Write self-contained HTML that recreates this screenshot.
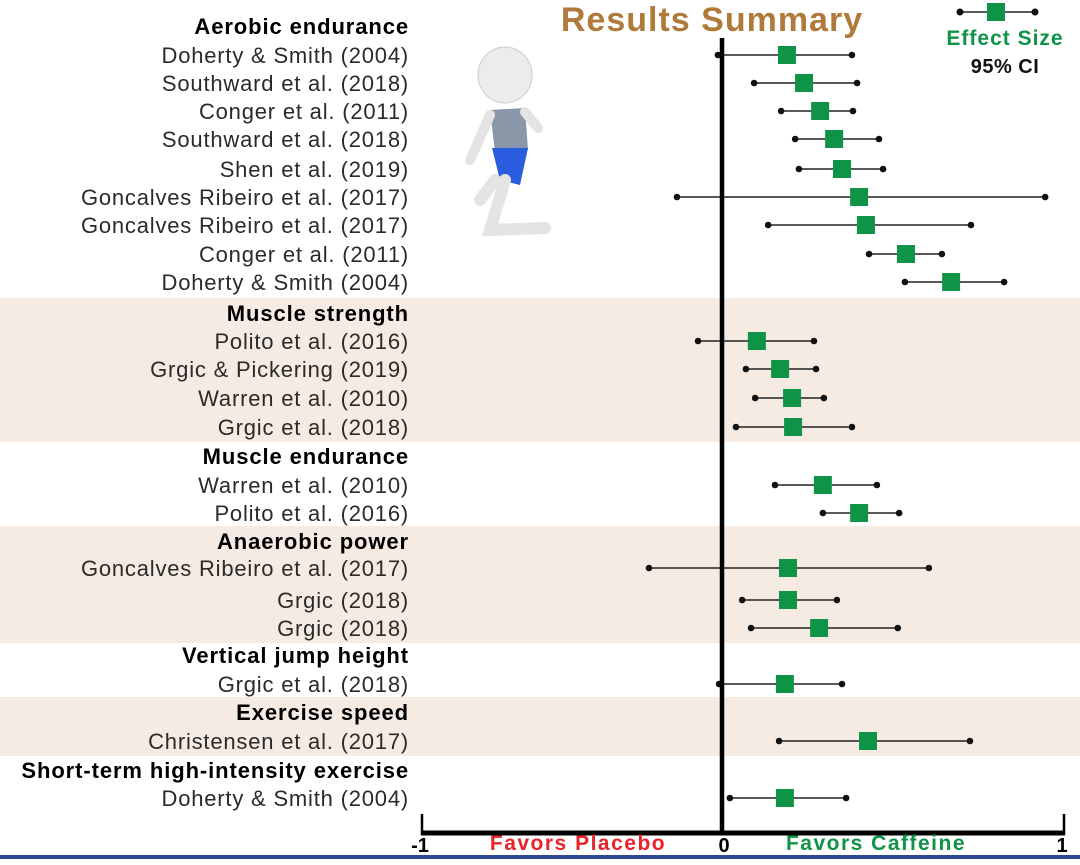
<!DOCTYPE html>
<html><head><meta charset="utf-8"><style>
body{margin:0;width:1080px;height:865px;overflow:hidden;background:#fff;font-family:"Liberation Sans",sans-serif}
svg{display:block}
</style></head><body>
<svg id="chart" width="1080" height="865" xmlns="http://www.w3.org/2000/svg">
<g id="bands"></g>
<g id="deco">
  <ellipse cx="505" cy="75" rx="27" ry="28" fill="#ececec" stroke="#ccc"/>
  <path d="M490 110 L525 108 L528 150 L495 152 Z" fill="#8a97a8"/>
  <path d="M492 148 L528 148 L520 185 L500 180 Z" fill="#2b5de0"/>
  <path d="M505 180 L490 230 L545 228" stroke="#e4e4e4" stroke-width="12" fill="none" stroke-linecap="round"/>
  <path d="M495 180 L480 200" stroke="#e4e4e4" stroke-width="12" fill="none" stroke-linecap="round"/>
  <path d="M490 115 L470 160" stroke="#e4e4e4" stroke-width="10" fill="none" stroke-linecap="round"/>
  <path d="M525 112 L538 128" stroke="#e4e4e4" stroke-width="10" fill="none" stroke-linecap="round"/>
</g>
<text x="712" y="31" text-anchor="middle" font-size="34" font-weight="bold" letter-spacing="1" fill="#b07a3a">Results Summary</text>
<g>
  <line x1="960" y1="12" x2="1035" y2="12" stroke="#222" stroke-width="1.5"/>
  <circle cx="960" cy="12" r="3.5" fill="#111"/><circle cx="1035" cy="12" r="3.5" fill="#111"/>
  <rect x="987" y="3" width="18" height="18" fill="#0f9447"/>
  <text x="1005" y="45" text-anchor="middle" font-size="21" font-weight="bold" letter-spacing="1" fill="#0f9447">Effect Size</text>
  <text x="1005" y="73" text-anchor="middle" font-size="20" font-weight="bold" letter-spacing="0.5" fill="#111">95% CI</text>
</g>
<g id="labels"></g>
<g id="marks"></g>
<g id="axis">
  <line x1="722" y1="38" x2="722" y2="835" stroke="#000" stroke-width="4.5"/>
  <line x1="421" y1="833" x2="1065" y2="833" stroke="#000" stroke-width="5"/>
  <line x1="422" y1="814" x2="422" y2="835" stroke="#000" stroke-width="2.5"/>
  <line x1="1064" y1="814" x2="1064" y2="835" stroke="#000" stroke-width="2.5"/>
  <text x="420" y="852" text-anchor="middle" font-size="20" font-weight="bold">-1</text>
  <text x="724" y="852" text-anchor="middle" font-size="20" font-weight="bold">0</text>
  <text x="1062" y="852" text-anchor="middle" font-size="20" font-weight="bold">1</text>
  <text x="578" y="850" text-anchor="middle" font-size="21" font-weight="bold" letter-spacing="1.5" fill="#e8232a">Favors Placebo</text>
  <text x="876" y="850" text-anchor="middle" font-size="21" font-weight="bold" letter-spacing="1.5" fill="#0f9447">Favors Caffeine</text>
</g>
<rect x="0" y="855" width="1080" height="4" fill="#2e4790"/>
</svg>
<script>
const rowLabels=["Aerobic endurance","Doherty & Smith (2004)","Southward et al. (2018)","Conger et al. (2011)","Southward et al. (2018)","Shen et al. (2019)","Goncalves Ribeiro et al. (2017)","Goncalves Ribeiro et al. (2017)","Conger et al. (2011)","Doherty & Smith (2004)","Muscle strength","Polito et al. (2016)","Grgic & Pickering (2019)","Warren et al. (2010)","Grgic et al. (2018)","Muscle endurance","Warren et al. (2010)","Polito et al. (2016)","Anaerobic power","Goncalves Ribeiro et al. (2017)","Grgic (2018)","Grgic (2018)","Vertical jump height","Grgic et al. (2018)","Exercise speed","Christensen et al. (2017)","Short-term high-intensity exercise","Doherty & Smith (2004)"];
const isHeader=[1,0,0,0,0,0,0,0,0,0,1,0,0,0,0,1,0,0,1,0,0,0,1,0,1,0,1,0];
const est=[null,0.187,0.237,0.284,0.325,0.348,0.398,0.418,0.535,0.667,null,0.099,0.167,0.202,0.205,null,0.292,0.398,null,0.190,0.190,0.281,null,0.181,null,0.424,null,0.181];
const lo=[null,-0.017,0.091,0.170,0.211,0.222,-0.153,0.132,0.427,0.532,null,-0.083,0.067,0.094,0.038,null,0.152,0.292,null,-0.246,0.056,0.082,null,-0.013,null,0.164,null,0.020];
const hi=[null,0.377,0.392,0.380,0.456,0.468,0.942,0.725,0.640,0.822,null,0.266,0.272,0.295,0.377,null,0.450,0.515,null,0.602,0.333,0.511,null,0.348,null,0.722,null,0.360];
const shaded=[0,0,0,0,0,0,0,0,0,0,1,1,1,1,1,0,0,0,1,1,1,1,0,0,1,1,0,0];
const rowY=[26,55,83,111,139,169,197,225,254,282,313,341,369,398,427,456,485,513,541,568,600,628,655,684,712,741,770,798];
const NS="http://www.w3.org/2000/svg";
function xs(v){return v<0?723+v*301:723+v*342;}
function mk(tag,attrs,parent){const e=document.createElementNS(NS,tag);for(const k in attrs)e.setAttribute(k,attrs[k]);parent.appendChild(e);return e;}
const bands=document.getElementById('bands'),labels=document.getElementById('labels'),marks=document.getElementById('marks');
for(let i=0;i<rowLabels.length;i++){
  if(shaded[i]){
    const top=(i>0&&shaded[i-1])?(rowY[i-1]+rowY[i])/2:rowY[i]-15;
    const bot=(i<rowY.length-1&&shaded[i+1])?(rowY[i]+rowY[i+1])/2+1:rowY[i]+15;
    const r=mk('rect',{x:0,y:top,width:1080,height:bot-top,fill:'#f5ebe3'},bands);
    
    
  }
  const t=mk('text',{x:409,y:rowY[i]+8,'text-anchor':'end','font-size':22,'letter-spacing':isHeader[i]?0.9:0.8,'font-weight':isHeader[i]?'bold':'normal',fill:isHeader[i]?'#000':'#2a2a2a'},labels);
  t.textContent=rowLabels[i];
  
  
  if(est[i]!==null){
    const y=rowY[i];
    const g=mk('g',{},marks);
    
    
    mk('line',{x1:xs(lo[i]),x2:xs(hi[i]),y1:y,y2:y,stroke:'#222','stroke-width':1.5},g);
    mk('circle',{cx:xs(lo[i]),cy:y,r:3.3,fill:'#111'},g);
    mk('circle',{cx:xs(hi[i]),cy:y,r:3.3,fill:'#111'},g);
    mk('rect',{x:xs(est[i])-9,y:y-9,width:18,height:18,fill:'#0f9447'},g);
  }
}
</script>
</body></html>
